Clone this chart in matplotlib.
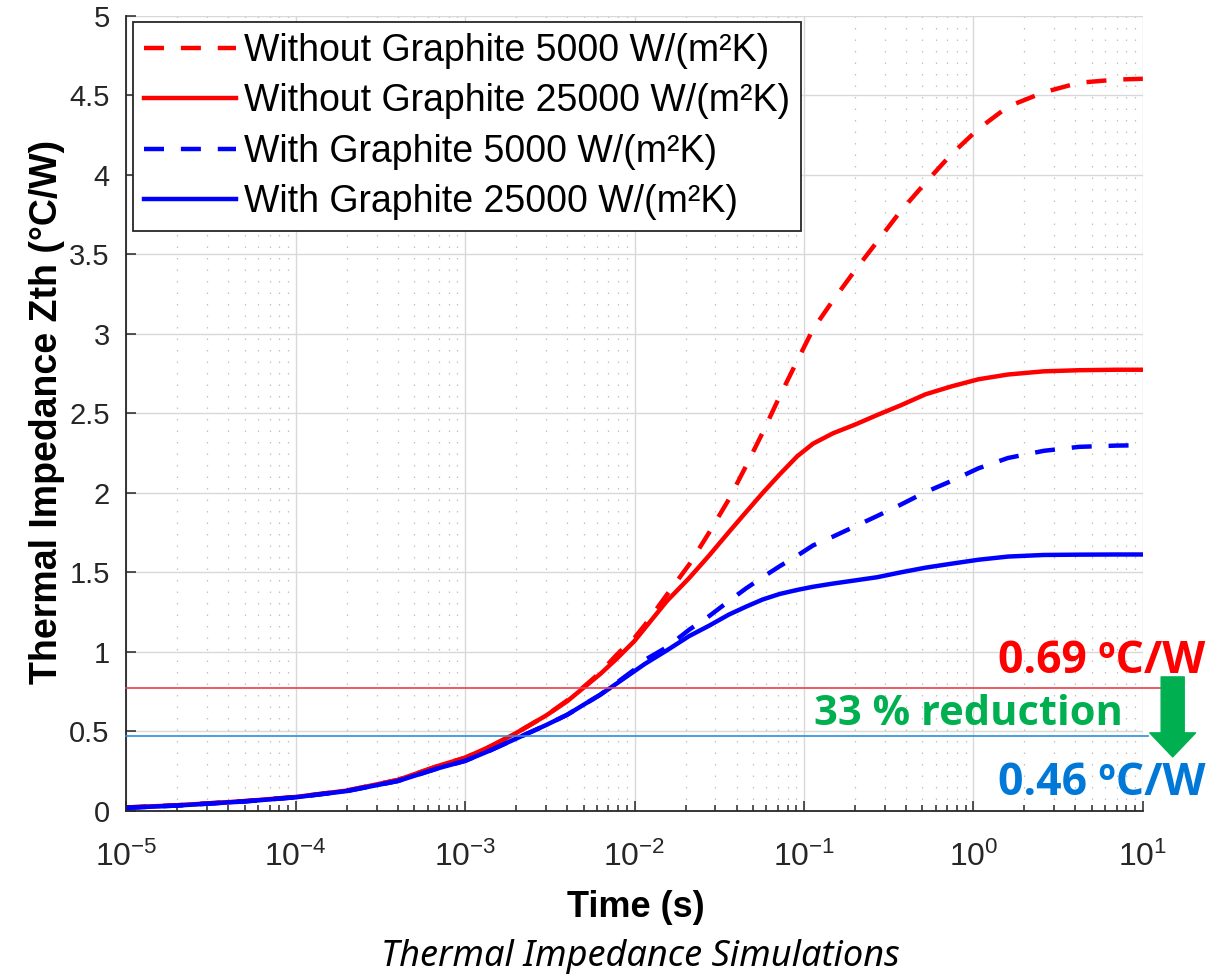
import numpy as np
import matplotlib
matplotlib.use("Agg")
import matplotlib.pyplot as plt
from matplotlib.patches import FancyArrowPatch, ArrowStyle

plt.rcParams['font.family'] = ['Liberation Sans', 'DejaVu Sans']
plt.rcParams['mathtext.default'] = 'regular'

# time points (s)
time_s = [1e-5, 2e-5, 5e-5, 1e-4, 2e-4, 4e-4, 7e-4, 1e-3, 1.4e-3, 2e-3, 3e-3, 4e-3,
          5e-3, 6.25e-3, 7.8e-3, 1e-2, 1.15e-2, 1.55e-2, 2.1e-2, 2.75e-2, 3.6e-2,
          4.55e-2, 5.7e-2, 7.2e-2, 9.1e-2, 0.113, 0.148, 0.2, 0.27, 0.37, 0.52,
          0.74, 1.07, 1.6, 2.6, 4.2, 7.0, 10.0]

# Zth (C/W) of each simulation
no_graphite_5k = [0.022, 0.036, 0.062, 0.088, 0.128, 0.195, 0.285, 0.335, 0.405, 0.49, 0.60, 0.695,
                  0.78, 0.87, 0.98, 1.09, 1.17, 1.36, 1.55, 1.75, 1.96,
                  2.17, 2.38, 2.61, 2.83, 3.03, 3.21, 3.40, 3.58, 3.77, 3.95,
                  4.13, 4.29, 4.43, 4.52, 4.58, 4.60, 4.605]
no_graphite_25k = [0.022, 0.036, 0.062, 0.088, 0.128, 0.195, 0.285, 0.335, 0.405, 0.49, 0.60, 0.69,
                   0.775, 0.86, 0.955, 1.07, 1.15, 1.32, 1.465, 1.606, 1.754,
                   1.88, 2.0, 2.118, 2.23, 2.31, 2.375, 2.43, 2.49, 2.55, 2.62,
                   2.67, 2.715, 2.745, 2.765, 2.772, 2.775, 2.775]
graphite_5k = [0.02, 0.034, 0.06, 0.086, 0.125, 0.188, 0.27, 0.315, 0.38, 0.455, 0.54, 0.605,
               0.668, 0.73, 0.805, 0.89, 0.95, 1.03, 1.14, 1.225, 1.32,
               1.40, 1.47, 1.54, 1.605, 1.67, 1.725, 1.79, 1.855, 1.925, 2.005,
               2.075, 2.155, 2.22, 2.265, 2.29, 2.298, 2.30]
graphite_25k = [0.02, 0.034, 0.06, 0.086, 0.125, 0.188, 0.27, 0.315, 0.38, 0.455, 0.54, 0.605,
                0.668, 0.73, 0.80, 0.88, 0.925, 1.01, 1.10, 1.165, 1.235,
                1.285, 1.33, 1.365, 1.39, 1.41, 1.43, 1.45, 1.47, 1.50, 1.53,
                1.555, 1.58, 1.60, 1.61, 1.612, 1.613, 1.613]

series_labels = ['Without Graphite 5000 W/(m²K)', 'Without Graphite 25000 W/(m²K)',
                 'With Graphite 5000 W/(m²K)', 'With Graphite 25000 W/(m²K)']

x_ticks = [1e-5, 1e-4, 1e-3, 1e-2, 1e-1, 1e0, 1e1]

# reference levels drawn across the plot
ref_red = 0.774
ref_blue = 0.474

fig = plt.figure(figsize=(12.14, 9.74), dpi=100)
ax = fig.add_axes([0.1041, 0.1674, 0.8373, 0.8162])

lw = 3.2
ax.plot(time_s, no_graphite_5k, color='#ff0000', lw=lw, dashes=(4.5, 3.8), label=series_labels[0])
ax.plot(time_s, no_graphite_25k, color='#ff0000', lw=lw, label=series_labels[1])
ax.plot(time_s, graphite_5k, color='#0000ff', lw=lw, dashes=(4.5, 3.8), label=series_labels[2])
ax.plot(time_s, graphite_25k, color='#0000ff', lw=lw, label=series_labels[3])

ax.set_xscale('log')
ax.set_xlim(1e-5, 10)
ax.set_ylim(0, 5)
ax.set_xticks(x_ticks)
yt = np.arange(0, 5.01, 0.5)
ax.set_yticks(yt)
ax.set_yticklabels(['%g' % v for v in yt])
ax.xaxis.set_minor_locator(matplotlib.ticker.LogLocator(base=10, subs=np.arange(2, 10), numticks=20))
ax.xaxis.set_minor_formatter(matplotlib.ticker.NullFormatter())

ax.set_axisbelow(True)
ax.grid(which='major', color='#d8d8d8', lw=1.0, ls='-')
ax.grid(which='minor', axis='x', color='#c0c0c0', lw=0.9, ls=(0, (1.2, 8)))

for s in ['top', 'right']:
    ax.spines[s].set_visible(False)
for s in ['left', 'bottom']:
    ax.spines[s].set_color('#262626')
    ax.spines[s].set_linewidth(1.3)

ax.tick_params(which='both', direction='in', color='#262626', width=1.1)
ax.tick_params(which='major', length=7.5)
ax.tick_params(which='minor', length=4)
ax.tick_params(axis='y', labelsize=21, labelcolor='#262626', pad=12)
ax.tick_params(axis='x', labelsize=23, labelcolor='#262626', pad=22)

ax.set_xlabel('Time (s)', fontsize=26, fontweight='bold')
ax.xaxis.set_label_coords(0.501, -0.1)
ax.set_ylabel('Thermal Impedance Zth (°C/W)', fontsize=27, fontweight='bold')
ax.yaxis.set_label_coords(-0.06, 0.502)

leg = ax.legend(loc='upper left', bbox_to_anchor=(0.0065, 0.9925), borderaxespad=0,
                fontsize=27, handlelength=2.45, handletextpad=0.2, labelspacing=0.38,
                borderpad=0.3, fancybox=False, framealpha=1)
leg.get_frame().set_edgecolor('#262626')
leg.get_frame().set_linewidth(1.3)

# reference lines and annotations
ax.plot([1e-5, 13.0], [ref_red, ref_red], color='#e8404c', lw=1.2, clip_on=False, zorder=3)
ax.plot([1e-5, 10.7], [ref_blue, ref_blue], color='#2b8fdc', lw=1.2, clip_on=False, zorder=3)

ann_font = ['Open Sans', 'DejaVu Sans']
fig.text(1205 / 1214, 1 - 673 / 974, '0.69 ºC/W', color='#ff0000', fontsize=32,
         fontweight='bold', family=ann_font, ha='right', va='baseline')
fig.text(1205 / 1214, 1 - 795 / 974, '0.46 ºC/W', color='#0078d7', fontsize=32,
         fontweight='bold', family=ann_font, ha='right', va='baseline')
fig.text(1123 / 1214, 1 - 725 / 974, '33 % reduction', color='#00b050', fontsize=30,
         fontweight='bold', family=ann_font, ha='right', va='baseline')

arrow = FancyArrowPatch((15.0, 0.843), (15.0, 0.34), shrinkA=0, shrinkB=0,
                        arrowstyle=ArrowStyle('Simple', head_length=17.3, head_width=33, tail_width=16.6),
                        color='#00b050', clip_on=False, zorder=4, mutation_scale=1)
ax.add_patch(arrow)

fig.text(640 / 1214, 1 - 957 / 974, 'Thermal Impedance Simulations', fontsize=26,
         style='italic', family=['Noto Sans', 'DejaVu Sans'], ha='center', va='center')

fig.savefig('out.png', dpi=100)
